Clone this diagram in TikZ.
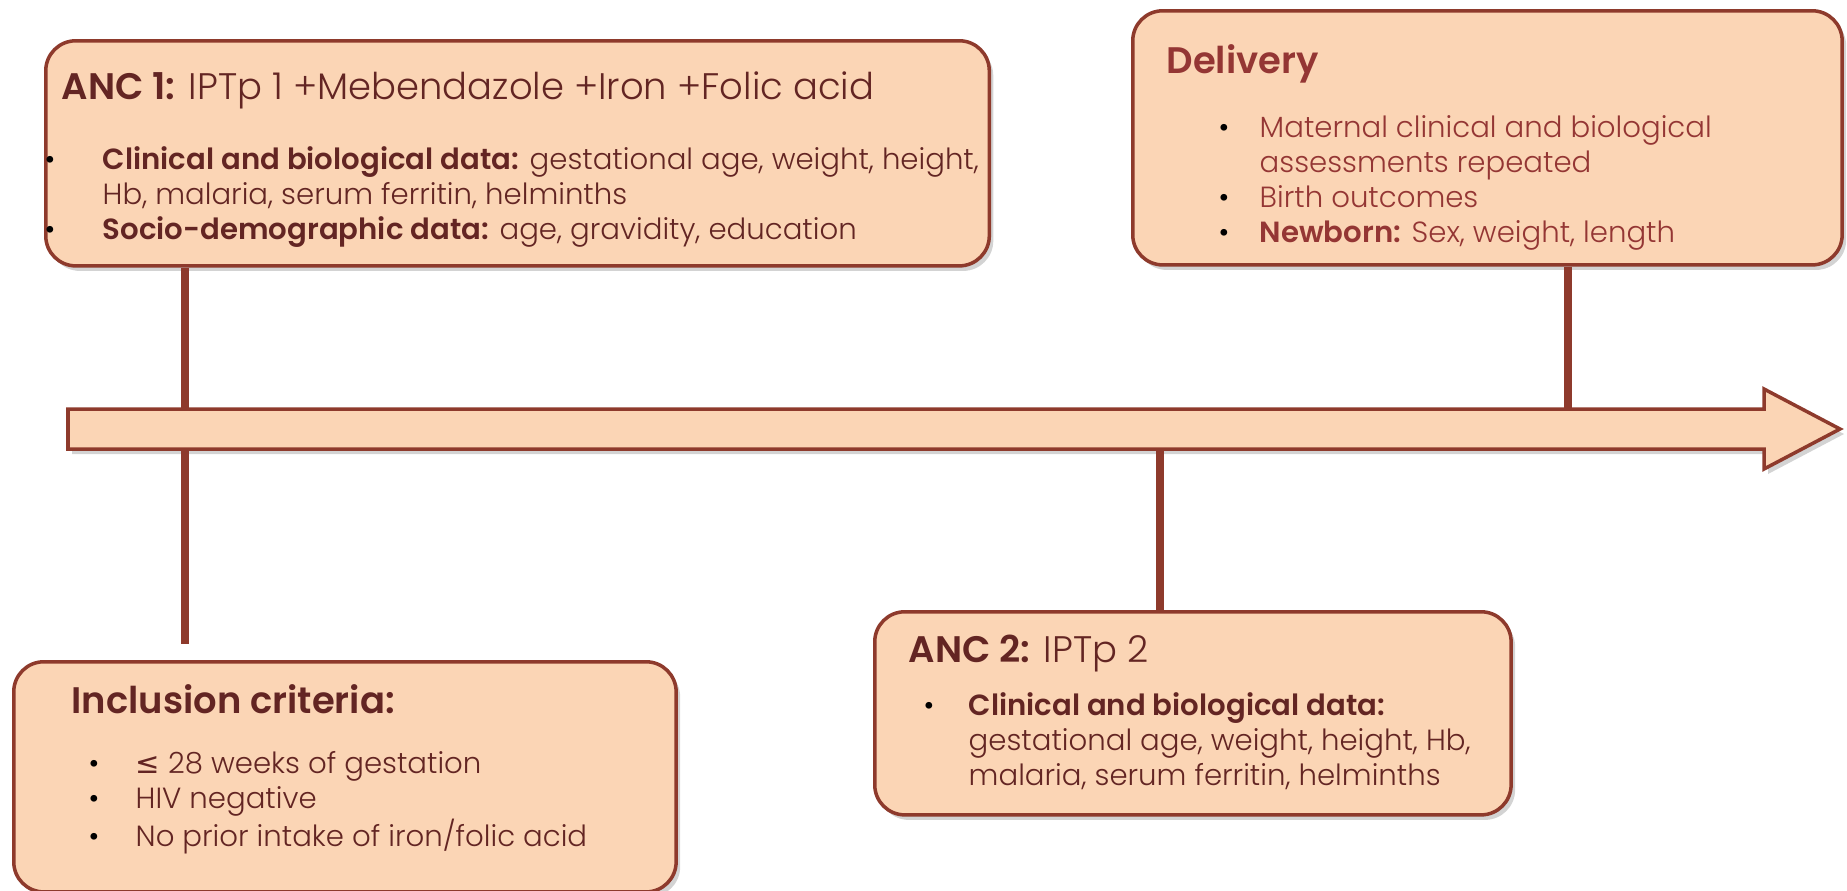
\documentclass[tikz,border=0pt]{standalone}
\usepackage{fontspec}
\setmainfont{Poppins}[UprightFont={* Light},BoldFont={* SemiBold}]
\newfontfamily\symfont{DejaVu Sans}
\usetikzlibrary{shadows,positioning}

\definecolor{peach}{HTML}{FBD5B5}
\definecolor{rust}{HTML}{8E3A2C}
\definecolor{darkbrown}{HTML}{632523}
\definecolor{redbrown}{HTML}{943634}

\tikzset{
  stage/.style={draw=rust,line width=1pt,fill=peach,rounded corners=0.3cm,
    drop shadow={shadow xshift=0.04cm,shadow yshift=-0.05cm,opacity=0.35},
    inner sep=0pt,anchor=north west},
  tick/.style={draw=rust,line width=2.2pt},
  title/.style={font=\fontsize{10.5}{12}\selectfont,anchor=base west,inner sep=0pt},
  body/.style={font=\fontsize{8.3}{10}\selectfont,anchor=north west,inner sep=0pt,align=left}
}
\newcommand{\bul}{\textcolor{black}{\textbullet}}

\begin{document}
\begin{tikzpicture}[x=0.01cm,y=-0.01cm]
\useasboundingbox (0,0) rectangle (1847,890);

% time line
\draw[draw=rust,line width=1pt,fill=peach,drop shadow={shadow xshift=0.04cm,shadow yshift=-0.05cm,opacity=0.35}]
  (68,409) -- (1764,409) -- (1764,389) -- (1840,429) -- (1764,469) -- (1764,449) -- (68,449) -- cycle;
\coordinate (t1) at (185,409);
\coordinate (b1) at (185,449);
\coordinate (t2) at (1568,409);
\coordinate (b3) at (1160,449);
\coordinate (e1) at (185,644);

% boxes
\node[stage,minimum width=9.43cm,minimum height=2.25cm] (anc1) at (44,39) {};
\node[stage,minimum width=7.09cm,minimum height=2.54cm] (deliv) at (1131,9) {};
\node[stage,minimum width=6.36cm,minimum height=2.03cm] (anc2) at (873,610) {};
\node[stage,minimum width=6.62cm,minimum height=2.30cm] (incl) at (12,660) {};

% ticks
\draw[tick] (anc1.south -| t1) -- (t1);
\draw[tick] (b1) -- (e1);
\draw[tick] (deliv.south -| t2) -- (t2);
\draw[tick] (b3) -- (anc2.north -| b3);

% ANC 1
\node[title,text=darkbrown] (anc1t) at (61,99) {\textbf{ANC 1:} IPTp 1 +Mebendazole +Iron +Folic acid};
\node[body,text=darkbrown] (anc1b) at (44,144) {\begin{tabular}{@{}p{0.58cm}@{}l@{}}
\bul & \textbf{Clinical and biological data:} gestational age, weight, height,\\
 & Hb, malaria, serum ferritin, helminths\\
\bul & \textbf{Socio-demographic data:} age, gravidity, education
\end{tabular}};

% Delivery
\node[title,text=redbrown] (delivt) at (1166,73) {\textbf{Delivery}};
\node[body,text=redbrown] (delivb) at (1218,112) {\begin{tabular}{@{}p{0.41cm}@{}l@{}}
\bul & Maternal clinical and biological\\
 & assessments repeated\\
\bul & Birth outcomes\\
\bul & \textbf{Newborn:} Sex, weight, length
\end{tabular}};

% ANC 2
\node[title,text=darkbrown] (anc2t) at (908,662) {\textbf{ANC 2:} IPTp 2};
\node[body,text=darkbrown] (anc2b) at (923,690) {\begin{tabular}{@{}p{0.45cm}@{}l@{}}
\bul & \textbf{Clinical and biological data:}\\
 & gestational age, weight, height, Hb,\\
 & malaria, serum ferritin, helminths
\end{tabular}};

% Inclusion
\node[title,text=darkbrown] (inclt) at (71,713) {\textbf{Inclusion criteria:}};
\node[body,text=darkbrown] (inclb) at (88,748) {\begin{tabular}{@{}p{0.47cm}@{}l@{}}
\bul & {\symfont ≤} 28 weeks of gestation\\
\bul & HIV negative\\
\bul & No prior intake of iron/folic acid
\end{tabular}};
\end{tikzpicture}
\end{document}
